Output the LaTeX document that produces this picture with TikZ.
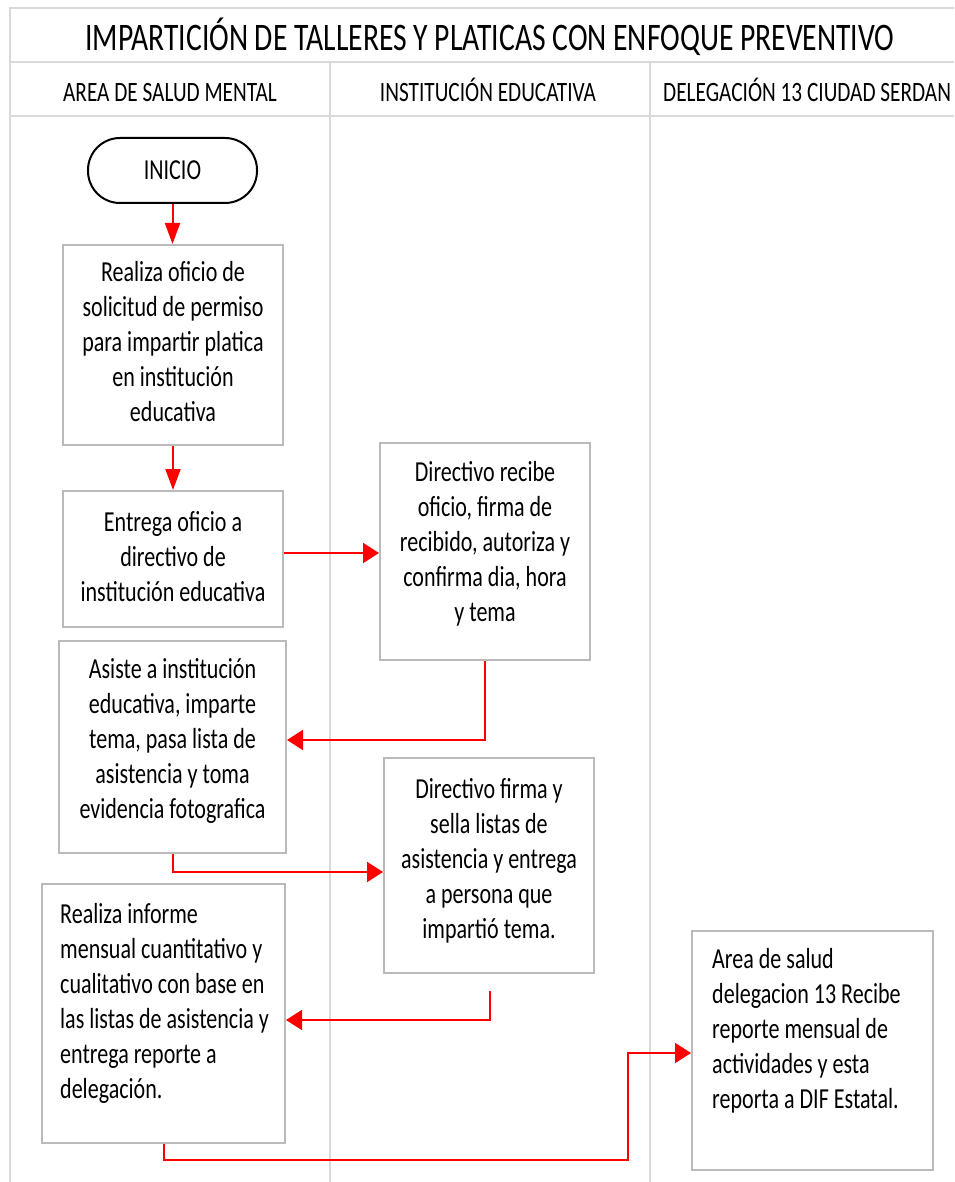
\documentclass[tikz,border=0pt]{standalone}
\usepackage{fontspec}
\setmainfont[FakeStretch=0.76]{Carlito}
\usetikzlibrary{arrows.meta,calc}

\begin{document}
\begin{tikzpicture}[x=1pt,y=-1pt,
  grid/.style={draw=black!15, line width=2.5pt},
  box/.style={draw=black!27, line width=2pt, fill=white, inner sep=0pt},
  terminal/.style={draw=black, line width=2pt, fill=white, rounded corners=32pt,
    inner sep=0pt, font=\fontsize{29}{35}\selectfont},
  txt/.style={inner sep=0pt, font=\fontsize{29}{35}\selectfont},
  lane/.style={inner sep=0pt, font=\fontsize{28}{34}\selectfont, anchor=base},
  flow/.style={draw=red, line width=2pt},
  vflow/.style={flow, -{Triangle[length=21pt,width=15pt]}},
  hflow/.style={flow, -{Triangle[length=16pt,width=20pt]}},
]
\useasboundingbox (0,0) rectangle (954,1182);

% swimlane frame and header
\begin{scope}
  \clip (0,0) rectangle (954,1182);
  \draw[grid] (954,8) -- (10,8) -- (10,1186);
  \draw[grid] (10,62) -- (954,62);
  \draw[grid] (10,116) -- (954,116);
  \draw[grid] (330,62) -- (330,1186);
  \draw[grid] (650,62) -- (650,1186);

  \node[inner sep=0pt, anchor=base, font=\fontsize{39}{45}\selectfont] (title) at (490,50.5)
    {IMPARTICIÓN DE TALLERES Y PLATICAS CON ENFOQUE PREVENTIVO};
  \node[lane] (lane1) at (170,102) {AREA DE SALUD MENTAL};
  \node[lane] (lane2) at (488,102) {INSTITUCIÓN EDUCATIVA};
  \node[lane, anchor=base west] (lane3) at (663,102) {DELEGACIÓN 13 CIUDAD SERDAN};
\end{scope}

% process boxes
\node[terminal, minimum width=169pt, minimum height=65pt] (inicio) at (172.5,170.5) {INICIO};

\node[box, minimum width=220pt, minimum height=200pt] (b1) at (173,345) {};
\node[txt, align=center] (t1) at (173,342)
  {Realiza oficio de\\solicitud de permiso\\para impartir platica\\en institución\\educativa};

\node[box, minimum width=220pt, minimum height=136pt] (b2) at (173,559) {};
\node[txt, align=center] (t2) at (173,557)
  {Entrega oficio a\\directivo de\\institución educativa};

\node[box, minimum width=210pt, minimum height=217pt] (b3) at (485,551.5) {};
\node[txt, align=center] (t3) at (485,544)
  {Directivo recibe\\oficio, firma de\\recibido, autoriza y\\confirma dia, hora\\y tema};

\node[box, minimum width=227pt, minimum height=212pt] (b4) at (172.5,747) {};
\node[txt, align=center] (t4) at (172.5,741)
  {Asiste a institución\\educativa, imparte\\tema, pasa lista de\\asistencia y toma\\evidencia fotografica};

\node[box, minimum width=210pt, minimum height=215pt] (b5) at (489,865.5) {};
\node[txt, align=center] (t5) at (489,861)
  {Directivo firma y\\sella listas de\\asistencia y entrega\\a persona que\\impartió tema.};

\node[box, minimum width=243pt, minimum height=259pt] (b6) at (163.5,1013.5) {};
\node[txt, align=left, anchor=west] (t6) at (60,1003)
  {Realiza informe\\mensual cuantitativo y\\cualitativo con base en\\las listas de asistencia y\\entrega reporte a\\delegación.};

\node[box, minimum width=241pt, minimum height=239pt] (b7) at (812.5,1050.5) {};
\node[txt, align=left, anchor=west] (t7) at (712,1031)
  {Area de salud\\delegacion 13 Recibe\\reporte mensual de\\actividades y esta\\reporta a DIF Estatal.};

% connectors
\coordinate (c5) at ($(b5.south)+(1,17)$);
\coordinate (bend) at (628,1160);

\draw[vflow] (inicio.south) -- (inicio.south |- b1.north);
\draw[vflow] (b1.south) -- (b2.north);
\draw[hflow] ([yshift=6pt]b2.east) -- ([yshift=6pt]b2.east -| b3.west);
\draw[hflow] (b3.south) |- ([yshift=7pt]b4.east);
\draw[hflow] (b4.south) |- ([yshift=-6.5pt]b5.west);
\draw[hflow] (c5) |- ([yshift=-6.5pt]b6.east);
\draw[hflow] (b6.south) |- (bend) |- ([yshift=-2.5pt]b7.west);
\end{tikzpicture}
\end{document}
